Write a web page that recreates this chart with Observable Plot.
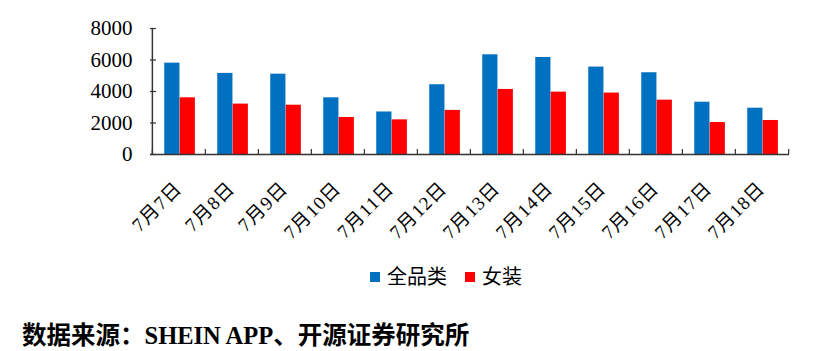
<!DOCTYPE html>
<html>
<head>
<meta charset="utf-8">
<script src="https://cdn.jsdelivr.net/npm/d3@7"></script>
<script src="https://cdn.jsdelivr.net/npm/@observablehq/plot@0.6"></script>
<style>
  html, body { margin: 0; padding: 0; background: #fff; }
  #wrap { position: relative; width: 830px; height: 351px; overflow: hidden; }
  #chart { position: absolute; left: 0; top: 0; }
  #chart g.xlabels text { letter-spacing: 1px; }
  #legend { position: absolute; left: 370px; top: 267px; display: flex; align-items: center; line-height: 1;
    font-family: "Liberation Serif", "Noto Sans CJK SC", serif; font-size: 20px; color: #000; }
  #legend .sw { display: inline-block; width: 10px; height: 10px; margin-right: 7px; }
  #legend .item { display: flex; align-items: center; margin-right: 18px; }
  #caption { position: absolute; left: 22px; top: 324px; white-space: nowrap; line-height: 1;
    font-family: "Liberation Serif", "Noto Sans CJK SC", serif; font-weight: bold; font-size: 24.5px; color: #000; }
</style>
</head>
<body>
<div id="wrap">
  <div id="chart"></div>
  <div id="legend"></div>
  <div id="caption"></div>
</div>
<script>
const dates = ["7月7日","7月8日","7月9日","7月10日","7月11日","7月12日","7月13日","7月14日","7月15日","7月16日","7月17日","7月18日"];
const allCategory = [5800, 5150, 5100, 3600, 2700, 4430, 6330, 6160, 5550, 5190, 3320, 2940];
const womenswear = [3600, 3200, 3130, 2350, 2200, 2800, 4130, 3960, 3900, 3450, 2030, 2160];
const seriesNames = ["全品类", "女装"];
const seriesColors = ["#0070C0", "#FF0000"];
const yTicks = [0, 2000, 4000, 6000, 8000];
const captionText = "数据来源：SHEIN APP、开源证券研究所";

const rows = dates.map((d, i) => ({date: d, all: allCategory[i], women: womenswear[i]}));

const W = 830, H = 255, mL = 150, mR = 41, mT = 28, mB = 101;
const bw = (W - mL - mR) / dates.length;
const frameH = H - mT - mB;
const axisColor = "#333";
const font = '"Liberation Serif", "Noto Sans CJK SC", serif';

const chart = Plot.plot({
  width: W, height: H,
  marginLeft: mL, marginRight: mR, marginTop: mT, marginBottom: mB,
  style: {fontFamily: font, color: "#000", background: "transparent"},
  x: {type: "band", domain: dates, padding: 0, axis: null},
  y: {domain: [0, 8000], axis: null},
  marks: [
    Plot.barY(rows, {x: "date", y: "all", fill: seriesColors[0], insetLeft: bw * 0.23, insetRight: bw * 0.48}),
    Plot.barY(rows, {x: "date", y: "women", fill: seriesColors[1], insetLeft: bw * 0.52, insetRight: bw * 0.19}),
    // y axis line
    Plot.tickX(dates.slice(0, 1), {x: d => d, dx: -bw / 2, stroke: axisColor, strokeWidth: 1.5}),
    // x axis line
    Plot.ruleY([0], {stroke: axisColor, strokeWidth: 1.5}),
    // y ticks (inward)
    Plot.tickY(yTicks, {y: d => d, stroke: axisColor, strokeWidth: 1.2, insetRight: (W - mL - mR) - 6}),
    // x boundary ticks (inward)
    Plot.tickX(dates, {x: d => d, dx: -bw / 2, stroke: axisColor, strokeWidth: 1.2, insetTop: frameH - 5}),
    Plot.tickX(dates.slice(-1), {x: d => d, dx: bw / 2, stroke: axisColor, strokeWidth: 1.2, insetTop: frameH - 5}),
    // y labels
    Plot.text(yTicks, {y: d => d, text: d => String(d), frameAnchor: "left", dx: -18, textAnchor: "end", fontSize: 21, fill: "#000"}),
    // x labels
    Plot.text(dates, {x: d => d, text: d => d, frameAnchor: "bottom", dx: 4, dy: 35, rotate: -45, textAnchor: "end", lineAnchor: "bottom", fontSize: 19, fill: "#000", className: "xlabels"})
  ]
});
document.getElementById("chart").appendChild(chart);

const legend = document.getElementById("legend");
seriesNames.forEach((name, i) => {
  const item = document.createElement("span");
  item.className = "item";
  const sw = document.createElement("span");
  sw.className = "sw";
  sw.style.background = seriesColors[i];
  item.appendChild(sw);
  item.appendChild(document.createTextNode(name));
  legend.appendChild(item);
});
document.getElementById("caption").textContent = captionText;
</script>
</body>
</html>
